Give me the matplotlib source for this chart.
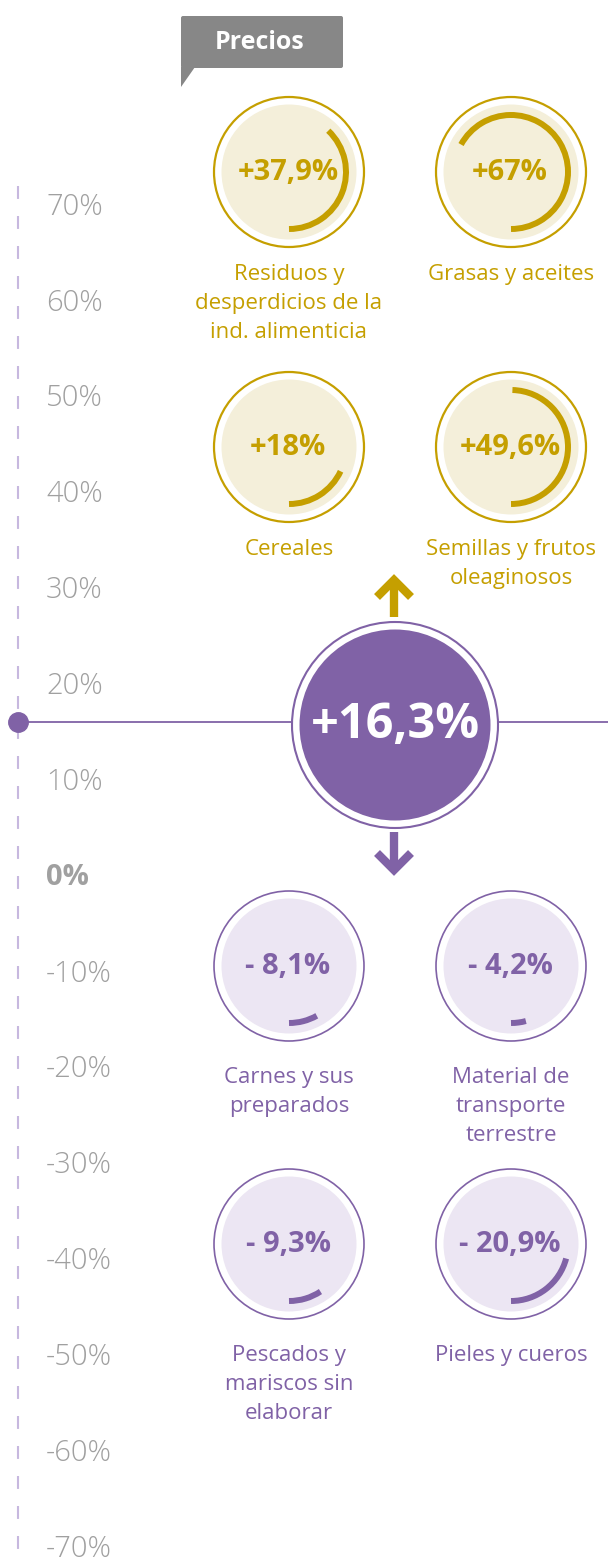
import numpy as np
import matplotlib.pyplot as plt
from matplotlib import patches

plt.rcParams['font.family'] = ['Open Sans', 'DejaVu Sans']

# data
categories = ['Residuos y\ndesperdicios de la\nind. alimenticia', 'Grasas y aceites',
              'Cereales', 'Semillas y frutos\noleaginosos',
              'Carnes y sus\npreparados', 'Material de\ntransporte\nterrestre',
              'Pescados y\nmariscos sin\nelaborar', 'Pieles y cueros']
changes = [37.9, 67.0, 18.0, 49.6, -8.1, -4.2, -9.3, -20.9]
value_labels = ['+37,9%', '+67%', '+18%', '+49,6%', '- 8,1%', '- 4,2%', '- 9,3%', '- 20,9%']
total = 16.3
total_label = '+16,3%'
tick_pcts = [70, 60, 50, 40, 30, 20, 10, 0, -10, -20, -30, -40, -50, -60, -70]
tick_labels = ['70%', '60%', '50%', '40%', '30%', '20%', '10%', '0%',
               '-10%', '-20%', '-30%', '-40%', '-50%', '-60%', '-70%']
title = 'Precios'

# colours
gold = '#C59F00'
gold_bg = '#F4EFDA'
purple = '#8062A6'
purple_bg = '#ECE6F3'
axis_col = '#C7B8DF'
grey = '#A0A0A0'

# layout (pixels)
col_x = [289, 511]
row_y = [172, 447, 966, 1244]
label_dy = [92, 92, 101, 101]

fig = plt.figure(figsize=(6.08, 15.61), dpi=100)

# percent scale axis
sc = fig.add_axes([0, 0, 1, 1])
sc.set_xlim(0, 608)
sc.set_ylim(-71.25, 91.59)
sc.axis('off')
sc.plot([18, 18], [72.2, -71.25], color=axis_col, lw=1.5, dashes=(6.2, 8.2), solid_capstyle='butt')
for p, t in zip(tick_pcts, tick_labels):
    sc.text(46, p, t, ha='left', va='center', fontsize=21, color=grey,
            fontweight='bold' if p == 0 else 'light')
sc.plot([18, 608], [total, total], color=purple, lw=1.3, zorder=1)
sc.plot([18], [total], 'o', color=purple, ms=14, zorder=2)

# pictogram axis (pixel coords)
ax = fig.add_axes([0, 0, 1, 1])
ax.set_xlim(0, 608)
ax.set_ylim(1561, 0)
ax.patch.set_alpha(0)
ax.axis('off')

# title tag
tag = patches.FancyBboxPatch((181, 16), 162, 52, boxstyle='round,pad=0,rounding_size=2',
                             fc='#878787', ec='none')
ax.add_patch(tag)
ax.add_patch(patches.Polygon([(181, 67), (181, 87), (195, 67)], closed=True, fc='#878787', ec='none'))
ax.text(260, 42, title, ha='center', va='center', color='white', fontsize=18, fontweight='bold')

# central circle
cx, cy = 395, 725
ax.add_patch(patches.Circle((cx, cy), 103, fc='white', ec=purple, lw=1.5, zorder=3))
ax.add_patch(patches.Circle((cx, cy), 95.5, fc=purple, ec='none', zorder=4))
ax.text(cx, cy, total_label, ha='center', va='center', color='white', fontsize=35,
        fontweight='bold', zorder=5)

# arrows
ax.plot([394, 394], [617, 584], color=gold, lw=6, solid_capstyle='butt')
ax.plot([377, 394, 411], [597, 580, 597], color=gold, lw=6, solid_joinstyle='miter', solid_capstyle='butt')
ax.plot([394, 394], [832, 866], color=purple, lw=6, solid_capstyle='butt')
ax.plot([377, 394, 411], [853, 870, 853], color=purple, lw=6, solid_joinstyle='miter', solid_capstyle='butt')

# category circles
for i, (cat, ch, lab) in enumerate(zip(categories, changes, value_labels)):
    x = col_x[i % 2]
    y = row_y[i // 2]
    col = gold if ch > 0 else purple
    bg = gold_bg if ch > 0 else purple_bg
    ring_lw = 1.6 if ch > 0 else 1.2
    ax.add_patch(patches.Circle((x, y), 75, fc='white', ec=col, lw=ring_lw))
    ax.add_patch(patches.Circle((x, y), 67.5, fc=bg, ec='none'))
    deg = abs(ch) * 3.6
    ax.add_patch(patches.Arc((x, y), 114, 114, theta1=90 - deg, theta2=90, color=col, lw=4.3))
    ax.text(x - 1, y, lab, ha='center', va='center', color=col, fontsize=21, fontweight='bold')
    ax.text(x, y + label_dy[i // 2], cat, ha='center', va='top', color=col, fontsize=16,
            linespacing=1.5)

fig.savefig('out.png', dpi=100)
